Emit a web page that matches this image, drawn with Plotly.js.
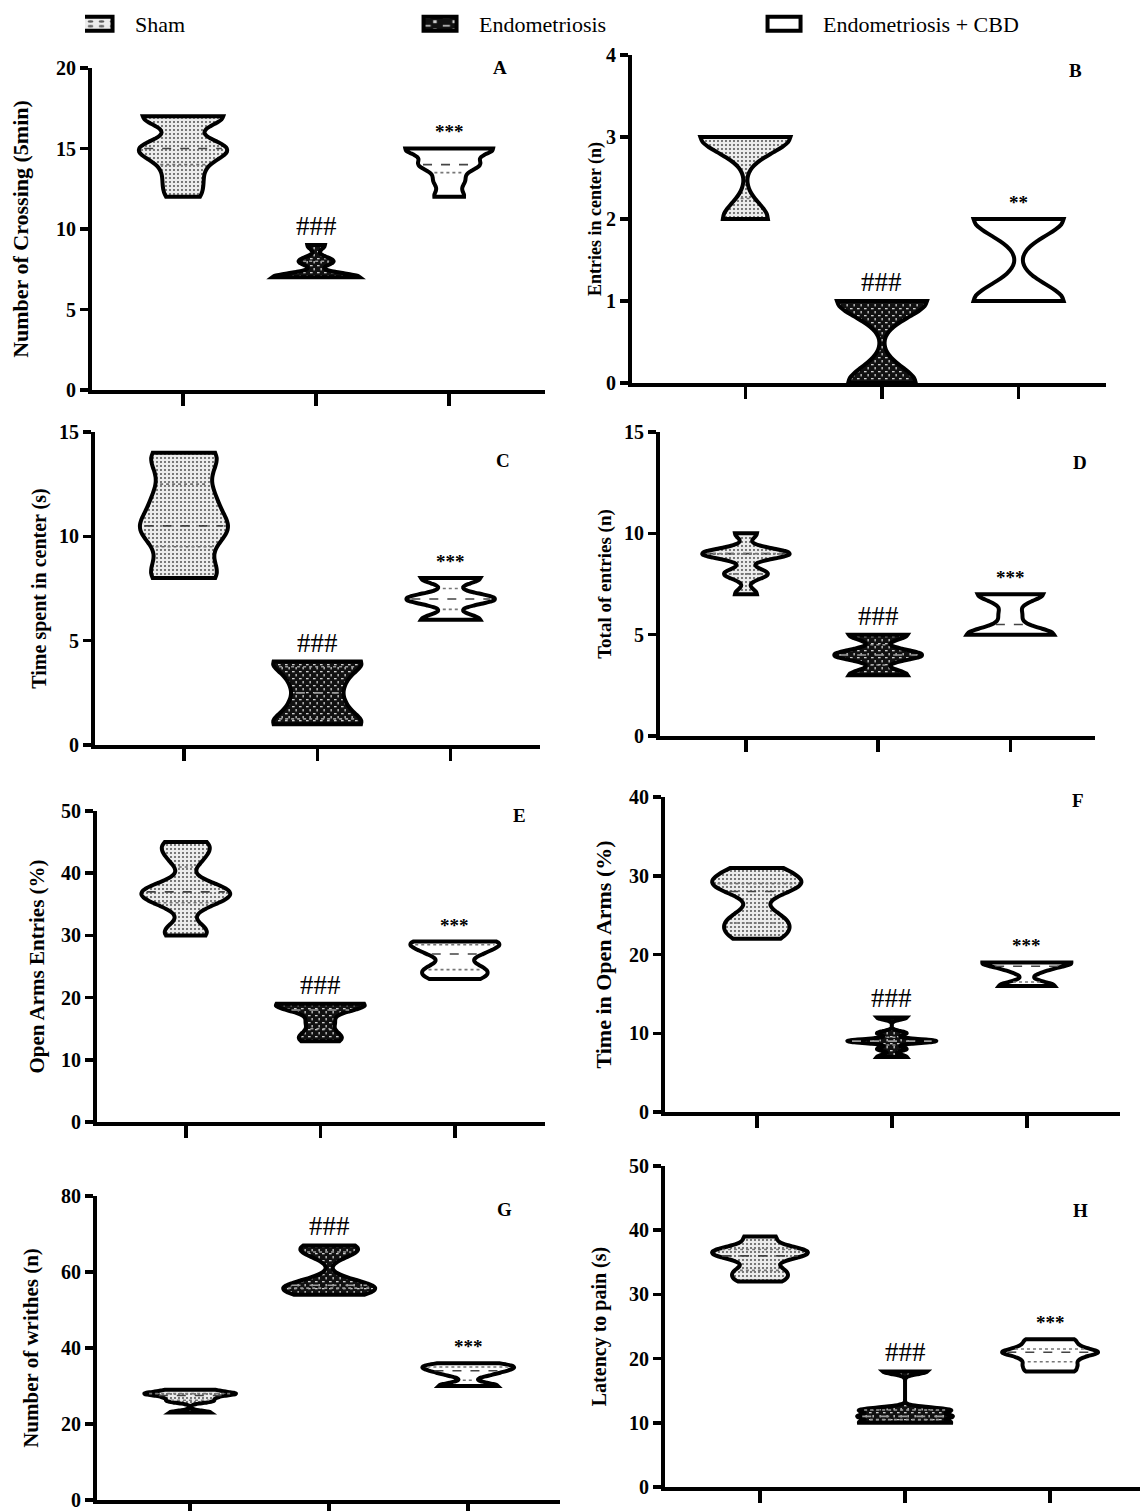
<!DOCTYPE html>
<html><head><meta charset="utf-8">
<script src="https://cdn.plot.ly/plotly-3.0.1.min.js"></script>
<style>body{margin:0;background:#fff}#chart{width:1140px;height:1511px}</style>
</head><body><div id="chart"></div>
<script>
// ---------- data ----------
const groupNames = ['Sham', 'Endometriosis', 'Endometriosis + CBD'];
const panelLetters = ['A','B','C','D','E','F','G','H'];
const yTitles = ['Number of Crossing (5min)', 'Entries in center (n)', 'Time spent in center (s)',
  'Total of entries (n)', 'Open Arms Entries (%)', 'Time in Open Arms (%)',
  'Number of writhes (n)', 'Latency to pain (s)'];
const yMax  = [20, 4, 15, 15, 50, 40, 80, 50];
const yStep = [5, 1, 5, 5, 10, 10, 20, 10];
const sigEndo = ['###','###','###','###','###','###','###','###'];
const sigCbd  = ['***','**','***','***','***','***','***','***'];

// A: Number of crossing (5 min)
const A_sham = [12, 13, 14, 15, 15, 15, 17, 17, 17];
const A_endo = [7, 7, 7, 7, 7, 8, 8, 9];
const A_cbd  = [12, 13, 14, 14, 15, 15, 15];
// B: Entries in center
const B_sham = [2, 2, 3, 3, 3, 3];
const B_endo = [0, 0, 0, 1, 1, 1, 1];
const B_cbd  = [1, 1, 1, 2, 2, 2];
// C: Time spent in center (s)
const C_sham = [8, 8, 9, 10, 10.5, 10.5, 11.5, 12, 13, 14, 14];
const C_endo = [1, 1, 2, 3, 4, 4];
const C_cbd  = [6, 6, 7, 7, 7, 8, 8];
// D: Total of entries
const D_sham = [7, 8, 8, 9, 9, 9, 9, 10];
const D_endo = [3, 3, 4, 4, 4, 5, 5];
const D_cbd  = [5, 5, 5, 5, 6, 7, 7, 7];
// E: Open arms entries (%)
const E_sham = [30, 31, 35, 36, 37, 37, 38, 42, 44, 45];
const E_endo = [13, 14, 16, 18, 19, 19, 19];
const E_cbd  = [23, 24, 25, 27, 28, 29, 29];
// F: Time in open arms (%)
const F_sham = [22, 23, 24, 25, 28, 29, 29, 30, 31];
const F_endo = [7, 8, 9, 9, 9, 10, 12];
const F_cbd  = [16, 16, 18, 19, 19, 19];
// G: Number of writhes
const G_sham = [23, 26, 27, 28, 28, 29];
const G_endo = [54, 55, 56, 56, 57, 65, 66, 67];
const G_cbd  = [30, 30, 33, 34, 35, 35, 36];
// H: Latency to pain (s)
const H_sham = [32, 33, 34, 36, 36, 37, 37, 39];
const H_endo = [10, 10, 11, 11, 12, 12, 18];
const H_cbd  = [18, 19, 20, 21, 21, 22, 23];

const panelData = [
  [A_sham, A_endo, A_cbd], [B_sham, B_endo, B_cbd], [C_sham, C_endo, C_cbd], [D_sham, D_endo, D_cbd],
  [E_sham, E_endo, E_cbd], [F_sham, F_endo, F_cbd], [G_sham, G_endo, G_cbd], [H_sham, H_endo, H_cbd]];

// ---------- layout config (pixels in the 1140x1511 page) ----------
const W = 1140, H = 1511;
const boxes = [ // left, right, top, bottom
  [92, 545, 68, 390], [632, 1106, 55, 383], [95, 540, 432, 745], [660, 1095, 432, 736],
  [97, 545, 811, 1122], [665, 1120, 797, 1112], [97, 560, 1196, 1500], [665, 1140, 1166, 1487]];
const xRanges = [[-0.684, 2.72], [-0.83, 2.64], [-0.667, 2.67], [-0.65, 2.64],
  [-0.66, 2.67], [-0.68, 2.69], [-0.67, 2.66], [-0.655, 2.62]];
const letterPos = [[0.90, 1.0], [0.935, 0.954], [0.917, 0.91], [0.966, 0.90],
  [0.944, 0.987], [0.908, 0.99], [0.88, 0.954], [0.874, 0.86]];
const titleSizes = [22, 18, 20, 19, 21, 22, 21, 20];
const titleStandoff = [22, 0, 8, 8, 12, 12, 18, 18];
const fills = ['#d4d4d4', '#3b3b3b', '#ffffff'];
const VW = 0.66;      // violin width (data units)
const BWF = 0.5;      // bandwidth factor

const FONT = 'Liberation Serif';

// ---------- helpers ----------
function quant(arr, p) {
  const s = arr.slice().sort((a, b) => a - b);
  const pos = (s.length - 1) * p, lo = Math.floor(pos), hi = Math.ceil(pos);
  return s[lo] + (s[hi] - s[lo]) * (pos - lo);
}
function bandwidth(v) {
  const n = v.length, m = v.reduce((a, b) => a + b, 0) / n;
  const sd = Math.sqrt(v.reduce((a, b) => a + (b - m) * (b - m), 0) / (n - 1));
  const iqr = quant(v, 0.75) - quant(v, 0.25);
  const a = iqr > 0 ? Math.min(sd, iqr / 1.349) : sd;
  return 1.059 * a * Math.pow(n, -0.2) * BWF;
}
function kde(v, bw, y) {
  let s = 0;
  for (const x of v) { const u = (y - x) / bw; s += Math.exp(-0.5 * u * u); }
  return s;
}

const traces = [], annotations = [], layout = {
  width: W, height: H, margin: {l: 0, r: 0, t: 0, b: 0},
  paper_bgcolor: '#fff', plot_bgcolor: '#fff', showlegend: true,
  font: {family: FONT, color: '#000'},
  legend: {orientation: 'h', x: 0.0746, y: 0.998, yanchor: 'top', xanchor: 'left',
    entrywidth: 289, entrywidthmode: 'pixels', font: {family: FONT, size: 22, color: '#000'},
    itemwidth: 40, traceorder: 'normal'},
  annotations: annotations
};

panelData.forEach((groups, p) => {
  const k = p === 0 ? '' : String(p + 1);
  const xa = 'x' + k, ya = 'y' + k;
  const [l, r, t, b] = boxes[p];
  layout['xaxis' + k] = {
    domain: [l / W, r / W], range: xRanges[p], type: 'linear', anchor: ya,
    showline: true, linewidth: 4, linecolor: '#000', ticks: 'outside', ticklen: 12,
    tickwidth: 3.5, tickcolor: '#000', tickvals: [0, 1, 2], showticklabels: false,
    showgrid: false, zeroline: false, fixedrange: true
  };
  layout['yaxis' + k] = {
    domain: [1 - b / H, 1 - t / H], range: [0, yMax[p]], anchor: xa,
    showline: true, linewidth: 4, linecolor: '#000', ticks: 'outside', ticklen: 8,
    tickwidth: 3.5, tickcolor: '#000', dtick: yStep[p], tick0: 0,
    tickfont: {family: FONT, size: 20, weight: 700, color: '#000'},
    showgrid: false, zeroline: false, fixedrange: true,
    title: {text: yTitles[p], standoff: titleStandoff[p], font: {family: FONT, size: titleSizes[p], weight: 700, color: '#000'}}
  };
  groups.forEach((vals, g) => {
    const bw = bandwidth(vals);
    traces.push({
      type: 'violin', x0: g, y: vals, name: groupNames[g], legendgroup: groupNames[g],
      showlegend: p === 0, xaxis: xa, yaxis: ya, width: VW, bandwidth: bw,
      spanmode: 'hard', scalemode: 'width', points: false, fillcolor: fills[g],
      line: {color: '#000', width: 4}, box: {visible: false}, meanline: {visible: false},
      hoverinfo: 'skip'
    });
    // median (dashed) and quartile (dotted) lines, width follows the density
    const lo = Math.min(...vals), hi = Math.max(...vals);
    let mx = 0;
    for (let i = 0; i <= 300; i++) mx = Math.max(mx, kde(vals, bw, lo + (hi - lo) * i / 300));
    [[0.5, 'dash', '#444'], [0.25, 'dot', '#777'], [0.75, 'dot', '#777']].forEach(([q, dash, col]) => {
      const yq = quant(vals, q);
      if (yq <= lo || yq >= hi) return;
      const hw = VW / 2 * kde(vals, bw, yq) / mx - 0.035;
      if (hw <= 0) return;
      traces.push({type: 'scatter', mode: 'lines', x: [g - hw, g + hw], y: [yq, yq],
        xaxis: xa, yaxis: ya, showlegend: false, hoverinfo: 'skip',
        line: {color: g === 1 ? '#9a9a9a' : col, width: 1.6, dash: dash}});
    });
  });
  // significance marks
  annotations.push({xref: xa, yref: ya, x: 1, y: Math.max(...groups[1]), text: sigEndo[p],
    showarrow: false, yanchor: 'bottom', yshift: 2, font: {family: FONT, size: 27, color: '#000'}});
  annotations.push({xref: xa, yref: ya, x: 2, y: Math.max(...groups[2]), text: sigCbd[p],
    showarrow: false, yanchor: 'bottom', yshift: 4, font: {family: FONT, size: 19, weight: 700, color: '#000'}});
  // panel letter
  annotations.push({xref: xa + ' domain', yref: ya + ' domain', x: letterPos[p][0], y: letterPos[p][1],
    text: panelLetters[p], showarrow: false, xanchor: 'center', yanchor: 'middle',
    font: {family: FONT, size: 19, weight: 700, color: '#000'}});
});

Plotly.newPlot('chart', traces, layout, {staticPlot: true, displayModeBar: false}).then(gd => {
  // textured fills like the original figure (dots for Sham, marks on black for Endometriosis)
  const NS = 'http://www.w3.org/2000/svg';
  const svg = gd.querySelector('svg.main-svg');
  let defs = svg.querySelector('defs');
  if (!defs) { defs = document.createElementNS(NS, 'defs'); svg.insertBefore(defs, svg.firstChild); }
  function makePattern(id, size, bg, shapes) {
    const pt = document.createElementNS(NS, 'pattern');
    pt.setAttribute('id', id); pt.setAttribute('patternUnits', 'userSpaceOnUse');
    pt.setAttribute('width', size); pt.setAttribute('height', size);
    const r = document.createElementNS(NS, 'rect');
    r.setAttribute('width', size); r.setAttribute('height', size); r.setAttribute('fill', bg);
    pt.appendChild(r);
    shapes.forEach(([tag, attrs]) => {
      const e = document.createElementNS(NS, tag);
      Object.entries(attrs).forEach(([a, v]) => e.setAttribute(a, v));
      pt.appendChild(e);
    });
    defs.appendChild(pt);
  }
  makePattern('patSham', 4, '#ececec', [['circle', {cx: 2, cy: 2, r: 1.05, fill: '#5a5a5a'}]]);
  makePattern('patEndo', 7, '#111111', [['rect', {x: 1, y: 1, width: 2.6, height: 1.3, fill: '#cfcfcf'}],
    ['rect', {x: 4.5, y: 4, width: 1.3, height: 2.4, fill: '#cfcfcf'}]]);
  gd.querySelectorAll('path').forEach(el => {
    const f = el.style.fill;
    if (f === 'rgb(212, 212, 212)') el.style.fill = 'url(#patSham)';
    else if (f === 'rgb(59, 59, 59)') el.style.fill = 'url(#patEndo)';
  });
  // wide rectangular legend keys as in the original
  gd.querySelectorAll('.legend .legendpoints path').forEach(el => {
    const tr = el.getAttribute('transform') || '';
    el.setAttribute('transform', tr + ' translate(-14,0) scale(2.75,1.17)');
    el.setAttribute('vector-effect', 'non-scaling-stroke');
    el.style.vectorEffect = 'non-scaling-stroke';
  });
});
</script>
</body></html>
